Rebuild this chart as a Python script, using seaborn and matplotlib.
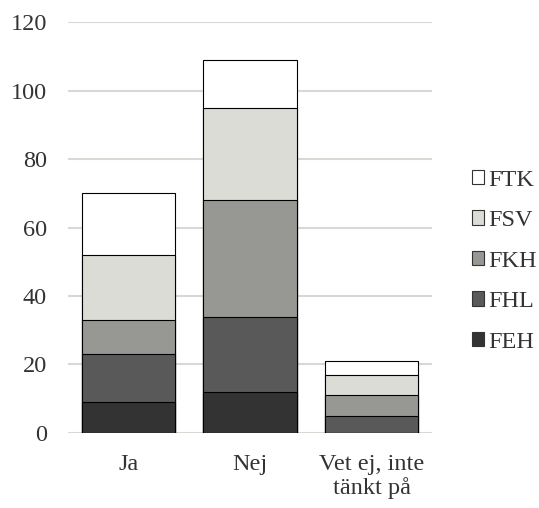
import numpy as np
import pandas as pd
import matplotlib
matplotlib.use("Agg")
import matplotlib.pyplot as plt
import seaborn as sns
from matplotlib.patches import Patch

categories = ["Ja", "Nej", "Vet ej, inte\ntänkt på"]
series = ["FEH", "FHL", "FKH", "FSV", "FTK"]
feh = [9, 12, 0]
fhl = [14, 22, 5]
fkh = [10, 34, 6]
fsv = [19, 27, 6]
ftk = [18, 14, 4]
colors = ["#333333", "#595959", "#979894", "#dcdcd6", "#ffffff"]

values = [feh, fhl, fkh, fsv, ftk]
cum = np.cumsum(np.array(values), axis=0)

sns.set_theme(style="white")
plt.rcParams["font.family"] = ["Liberation Serif", "DejaVu Serif"]

fig = plt.figure(figsize=(5.39, 5.08), dpi=100)
ax = fig.add_axes([0.126, 0.148, 0.676, 0.808])

# stacked look: draw cumulative totals from the top series down
for i in range(len(series) - 1, -1, -1):
    df = pd.DataFrame({"cat": categories, "val": cum[i]})
    sns.barplot(data=df, x="cat", y="val", color=colors[i], saturation=1,
                width=0.77, edgecolor="black", linewidth=0.8, ax=ax, zorder=3)

ax.set_ylim(0, 120)
ax.set_xlim(-0.5, 2.5)
ax.set_yticks(range(0, 121, 20))
ax.yaxis.grid(True, color="#d9d9d4", linewidth=1.5, zorder=0)
ax.set_axisbelow(True)
for s in ax.spines.values():
    s.set_visible(False)
ax.set_xlabel("")
ax.set_ylabel("")
ax.tick_params(axis="both", length=0, labelsize=17.5, colors="#333333")
ax.tick_params(axis="y", pad=15)
ax.tick_params(axis="x", pad=15)
for t in ax.get_xticklabels():
    t.set_linespacing(1.12)

handles = [Patch(facecolor=colors[i], edgecolor="#333333", linewidth=0.8, label=series[i])
           for i in range(len(series) - 1, -1, -1)]
fig.legend(handles=handles, loc="center left", bbox_to_anchor=(0.875, 0.486),
           frameon=False, fontsize=17.5, handlelength=0.52, handleheight=0.52,
           handletextpad=0.15, labelspacing=0.8, borderpad=0, borderaxespad=0,
           labelcolor="#333333")

fig.savefig("out.png", dpi=100)
